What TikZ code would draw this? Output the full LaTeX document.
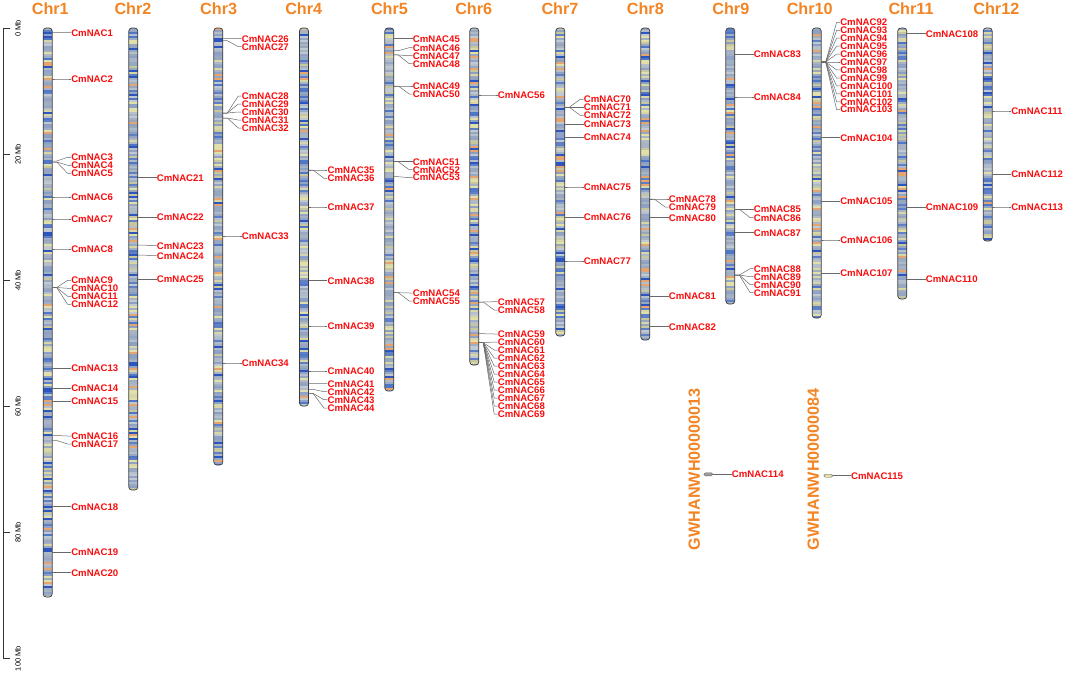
\documentclass[tikz,border=0pt]{standalone}
\usepackage{fontspec}
\setmainfont{Liberation Sans}
\usetikzlibrary{calc}

\definecolor{chrorange}{RGB}{243,132,36}
\definecolor{genered}{RGB}{250,12,12}
\definecolor{linkgray}{RGB}{105,105,105}
\definecolor{band1}{RGB}{160,175,196}
\definecolor{band2}{RGB}{150,168,194}
\definecolor{band3}{RGB}{168,180,196}
\definecolor{band4}{RGB}{140,160,195}
\definecolor{band5}{RGB}{152,166,190}
\definecolor{band6}{RGB}{145,162,198}
\definecolor{band7}{RGB}{175,186,200}
\definecolor{band8}{RGB}{80,118,200}
\definecolor{band9}{RGB}{95,128,198}
\definecolor{band10}{RGB}{45,85,192}
\definecolor{band11}{RGB}{226,224,170}
\definecolor{band12}{RGB}{214,214,168}
\definecolor{band13}{RGB}{198,198,160}
\definecolor{band14}{RGB}{192,200,210}
\definecolor{band15}{RGB}{182,192,205}
\definecolor{band16}{RGB}{228,165,115}

\tikzset{
  chrname/.style={font=\bfseries\fontsize{16.2}{18}\selectfont,text=chrorange,inner sep=0pt},
  gene/.style={font=\bfseries\fontsize{9.6}{10}\selectfont,text=genered,anchor=west,inner sep=0pt},
  link/.style={draw=linkgray,line width=0.5pt},
  chrframe/.style={draw=gray!45!black,line width=0.7pt,rounded corners=3pt},
  axisline/.style={draw=gray!40!black,line width=1.2pt},
  mbtext/.style={font=\fontsize{7.5}{9}\selectfont,rotate=90,inner sep=0pt},
}

\begin{document}
\begin{tikzpicture}[x=1pt,y=-1pt]
\useasboundingbox (0,0) rectangle (1065,677);
\pgfmathsetseed{42}
\def\chrx{{47.7,133.3,218.3,304,389.3,474.3,560.3,645.3,730.3,816.7,902.3,987.7}}

% scale bar
\coordinate (ax0) at (3.5,28.5);
\coordinate (ax100) at (3.5,658.5);
\draw[axisline] (ax0) -- (ax100);
\foreach \m in {0,20,...,100} {
  \draw[axisline] (3.5,{28.5+6.3*\m}) -- ++(6.5,0);
  \node[mbtext] (mb\m) at (18,{28.5+6.3*\m}) {\m\ Mb};
}

% chromosomes
\foreach \i/\lx/\bot in {1/50.3/597, 2/133/490, 3/218.7/465, 4/303.7/406, 5/389.5/391, 6/473.7/365,
    7/560/336, 8/645.3/340, 9/730.8/304, 10/809.7/318, 11/911/299, 12/996.3/241} {
  \pgfmathsetmacro{\cx}{\chrx[\i-1]}
  \node[chrname] (chr\i) at (\lx,8.5) {Chr\i};
  \begin{scope}
    \clip[rounded corners=3pt] (\cx-4.5,28) rectangle (\cx+4.5,\bot);
    \foreach \y in {28,30,...,\bot} {
      \pgfmathrandominteger{\c}{1}{16}
      \fill[band\c] (\cx-4.5,\y) rectangle (\cx+4.5,\y+2);
    }
  \end{scope}
  \draw[chrframe] (\cx-4.5,28) rectangle (\cx+4.5,\bot);
}

% genes: chromosome/number/marker y/label y
\foreach \k/\n/\ym/\yl in {
    1/1/32.5/32.7, 1/2/79/79, 1/3/161/157.3, 1/4/162/165.3, 1/5/162/173.3, 1/6/197/197, 1/7/219/219,
    1/8/249/249, 1/9/287.5/280.3, 1/10/287.5/288.3, 1/11/287.5/296.3, 1/12/287.5/304.3, 1/13/368.3/368.3,
    1/14/388.3/388.3, 1/15/401.5/401.5, 1/16/435.5/436, 1/17/440.5/444, 1/18/506.7/506.7, 1/19/552.3/552.3,
    1/20/572.7/572.7,
    2/21/177.7/177.7, 2/22/217.3/217.3, 2/23/245/245.7, 2/24/255/255.7, 2/25/279.3/279.3,
    3/26/38.3/38.7, 3/27/40.7/46.7, 3/28/113/96, 3/29/113/104, 3/30/113/112, 3/31/118/120,
    3/32/118/128, 3/33/236/236, 3/34/363/363,
    4/35/170/170, 4/36/170/178.3, 4/37/207/207, 4/38/280.7/280.7, 4/39/326/326, 4/40/371/371,
    4/41/383.5/383.7, 4/42/389.3/391.7, 4/43/393.3/399.7, 4/44/393.3/408,
    5/45/38.7/38.7, 5/46/50.7/47.7, 5/47/55/55.7, 5/48/55/63.7, 5/49/86/86, 5/50/86/94, 5/51/161.7/161.7,
    5/52/161.7/169.7, 5/53/176.7/177.7, 5/54/292.7/293, 5/55/292.7/301,
    6/56/95/95, 6/57/302/301.7, 6/58/302/310, 6/59/333.7/334, 6/60/342.7/342, 6/61/342.7/350,
    6/62/342.7/358, 6/63/342.7/366, 6/64/342.7/374, 6/65/342.7/382, 6/66/342.7/390, 6/67/342.7/398,
    6/68/342.7/406, 6/69/342.7/414,
    7/70/107.3/99.3, 7/71/107.3/107.3, 7/72/107.3/115.3, 7/73/124.3/124.3, 7/74/137.3/137.3,
    7/75/187/187, 7/76/217.3/217.3, 7/77/261/261,
    8/78/199/199, 8/79/199/207, 8/80/217.7/217.7, 8/81/296.3/296.3, 8/82/326.7/326.7,
    9/83/54.3/54.3, 9/84/97/97, 9/85/209.3/209.3, 9/86/209.3/217.7, 9/87/232.7/232.7, 9/88/275/268.7,
    9/89/275/276.7, 9/90/275/284.7, 9/91/275/292.7,
    10/92/62/22.3, 10/93/62/30.3, 10/94/62/38.2, 10/95/62/46.2, 10/96/62/54.1, 10/97/62/62, 10/98/62/70,
    10/99/62/78, 10/100/62/85.9, 10/101/62/93.9, 10/102/62/101.8, 10/103/62/109.7, 10/104/137.7/137.7,
    10/105/201.3/201.3, 10/106/240/240, 10/107/273.3/273.3,
    11/108/33.7/33.7, 11/109/207.3/207.3, 11/110/279.3/279.3,
    12/111/111/111, 12/112/174.3/174.3, 12/113/207/207} {
  \pgfmathsetmacro{\cx}{\chrx[\k-1]}
  \coordinate (m\n) at (\cx+4.5,\ym);
  \node[gene] (g\n) at (\cx+23.4,\yl) {CmNAC\n};
  \draw[link] (m\n) -- ++(4.5,0) -- ($(g\n.west)+(-3.5,0)$) -- (g\n.west);
}

% unplaced scaffolds
\node[chrname,rotate=90] (scf13) at (694.3,469) {GWHANWH00000013};
\node[chrname,rotate=90] (scf84) at (813.3,469) {GWHANWH00000084};
\node[draw=linkgray,fill=gray!75,rounded corners=1.5pt,minimum width=9pt,minimum height=3pt,inner sep=0pt] (s13) at (708.3,474.3) {};
\node[draw=linkgray,fill=band11,rounded corners=1.5pt,minimum width=9pt,minimum height=3pt,inner sep=0pt] (s84) at (828.3,475.7) {};
\node[gene] (g114) at (731.7,474.3) {CmNAC114};
\node[gene] (g115) at (851,475.7) {CmNAC115};
\draw[link] (s13.east) -- (g114.west);
\draw[link] (s84.east) -- (g115.west);

\end{tikzpicture}
\end{document}
